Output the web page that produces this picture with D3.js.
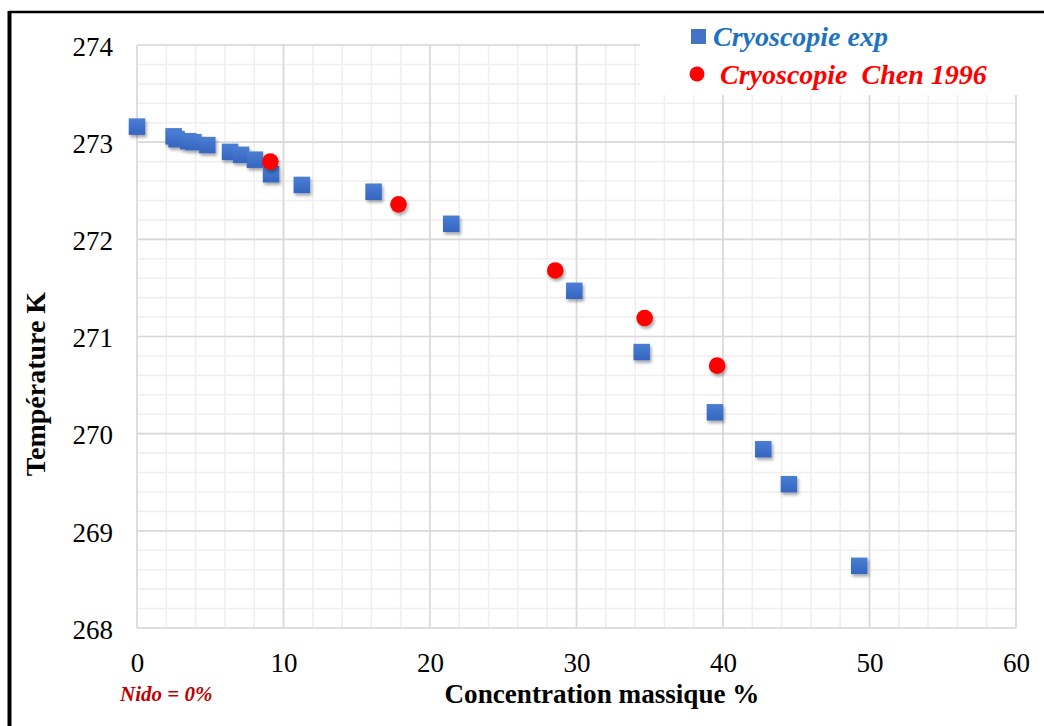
<!DOCTYPE html>
<html>
<head>
<meta charset="utf-8">
<script src="https://cdn.jsdelivr.net/npm/d3@7/dist/d3.min.js"></script>
<style>
  html, body { margin: 0; padding: 0; background: #fff; }
  svg { display: block; }
  text { font-family: 'Liberation Serif', 'Times New Roman', Times, 'DejaVu Serif', serif; }
</style>
</head>
<body>
<svg id="chart" width="1044" height="726"></svg>
<script>
// ---- Data ----
const expConc = [0, 2.5, 2.7, 3.5, 3.85, 4.8, 6.35, 7.1, 8.05, 9.15, 11.25, 16.15, 21.45, 29.85, 34.45, 39.45, 42.75, 44.5, 49.3];
const expTemp = [273.16, 273.06, 273.03, 273.01, 273.0, 272.97, 272.90, 272.87, 272.82, 272.67, 272.56, 272.49, 272.16, 271.47, 270.84, 270.22, 269.84, 269.48, 268.64];
const chenConc = [9.1, 17.85, 28.55, 34.65, 39.6];
const chenTemp = [272.80, 272.36, 271.68, 271.19, 270.70];
const xTicks = [0, 10, 20, 30, 40, 50, 60];
const yTicks = [268, 269, 270, 271, 272, 273, 274];
const seriesNames = ["Cryoscopie exp", "Cryoscopie\u00A0 Chen 1996"];
const xTitle = "Concentration massique %";
const yTitle = "Température K";
const note = "Nido = 0%";

// ---- Layout ----
const svg = d3.select("#chart");
const pLeft = 137, pRight = 1016, pTop = 45, pBottom = 628;
const x = d3.scaleLinear().domain([0, 60]).range([pLeft, pRight]);
const y = d3.scaleLinear().domain([268, 274]).range([pBottom, pTop]);
const serif = "'Liberation Serif', 'Times New Roman', Times, 'DejaVu Serif', serif";

const defs = svg.append("defs");
const f = defs.append("filter").attr("id", "shadow").attr("x", "-50%").attr("y", "-50%").attr("width", "200%").attr("height", "200%");
f.append("feDropShadow").attr("dx", 1.5).attr("dy", 2.5).attr("stdDeviation", 1.6).attr("flood-color", "#000").attr("flood-opacity", 0.35);
const grad = defs.append("linearGradient").attr("id", "sqgrad").attr("x1", 0).attr("y1", 0).attr("x2", 0).attr("y2", 1);
grad.append("stop").attr("offset", "0%").attr("stop-color", "#4a7ed3");
grad.append("stop").attr("offset", "100%").attr("stop-color", "#3565c0");

// ---- Grid ----
const minorX = d3.range(0, 60.001, 2);
const minorY = d3.range(268, 274.001, 0.2);
const g = svg.append("g");
g.selectAll(".mx").data(minorX).join("line")
  .attr("x1", d => x(d)).attr("x2", d => x(d)).attr("y1", pTop).attr("y2", pBottom)
  .attr("stroke", "#efefef").attr("stroke-width", 1.6);
g.selectAll(".my").data(minorY).join("line")
  .attr("x1", pLeft).attr("x2", pRight).attr("y1", d => y(d)).attr("y2", d => y(d))
  .attr("stroke", "#efefef").attr("stroke-width", 1.6);
g.selectAll(".Mx").data(xTicks).join("line")
  .attr("x1", d => x(d)).attr("x2", d => x(d)).attr("y1", pTop).attr("y2", pBottom)
  .attr("stroke", "#d9d9d9").attr("stroke-width", 1.6);
g.selectAll(".My").data(yTicks).join("line")
  .attr("x1", pLeft).attr("x2", pRight).attr("y1", d => y(d)).attr("y2", d => y(d))
  .attr("stroke", "#d9d9d9").attr("stroke-width", 1.6);

// ---- Axes (labels only) ----
const xAxis = svg.append("g").attr("transform", `translate(0,${pBottom})`)
  .call(d3.axisBottom(x).tickValues(xTicks).tickSize(0).tickPadding(0).tickFormat(d3.format("d")));
xAxis.attr("font-family", serif).attr("font-size", 27);
xAxis.select(".domain").remove();
xAxis.selectAll("text").style("font-family", serif).style("font-size", "27px").style("font-weight", "normal").attr("fill", "#000")
  .attr("y", 44).attr("dy", 0);

const yAxis = svg.append("g").attr("transform", `translate(${pLeft},0)`)
  .call(d3.axisLeft(y).tickValues(yTicks).tickSize(0).tickPadding(0).tickFormat(d3.format("d")));
yAxis.attr("font-family", serif).attr("font-size", 27);
yAxis.select(".domain").remove();
yAxis.selectAll("text").style("font-family", serif).style("font-size", "27px").style("font-weight", "normal").attr("fill", "#000")
  .attr("x", -24).attr("dy", "0.38em");

// ---- Legend background (covers grid) ----
svg.append("rect").attr("x", 640).attr("y", 14).attr("width", 404).attr("height", 81).attr("fill", "#fff");

// ---- Marks ----
const sq = 16.5;
svg.append("g").attr("filter", "url(#shadow)")
  .selectAll("rect").data(d3.zip(expConc, expTemp)).join("rect")
  .attr("x", d => x(d[0]) - sq / 2).attr("y", d => y(d[1]) - sq / 2)
  .attr("width", sq).attr("height", sq).attr("fill", "url(#sqgrad)");

svg.append("g").attr("filter", "url(#shadow)")
  .selectAll("circle").data(d3.zip(chenConc, chenTemp)).join("circle")
  .attr("cx", d => x(d[0])).attr("cy", d => y(d[1])).attr("r", 8.3).attr("fill", "#ff0000");

// ---- Legend ----
svg.append("rect").attr("x", 691).attr("y", 29).attr("width", 15).attr("height", 15).attr("fill", "#4472c4");
svg.append("text").attr("x", 713).attr("y", 46).text(seriesNames[0])
  .style("font-family", serif).style("font-size", "28px").attr("font-weight", "bold").attr("font-style", "italic").attr("fill", "#1e73be");
svg.append("circle").attr("cx", 697).attr("cy", 74).attr("r", 7.5).attr("fill", "#ff0000");
svg.append("text").attr("x", 720).attr("y", 84).text(seriesNames[1])
  .style("font-family", serif).style("font-size", "28px").attr("font-weight", "bold").attr("font-style", "italic").attr("fill", "#ff0000");

// ---- Titles ----
svg.append("text").attr("x", 602).attr("y", 703).attr("text-anchor", "middle").text(xTitle)
  .style("font-family", serif).style("font-size", "27px").attr("font-weight", "bold").attr("fill", "#000")
  .attr("textLength", 315).attr("lengthAdjust", "spacingAndGlyphs");
svg.append("text").attr("transform", "translate(45,384) rotate(-90)").attr("text-anchor", "middle").text(yTitle)
  .style("font-family", serif).style("font-size", "28px").attr("font-weight", "bold").attr("fill", "#000");
svg.append("text").attr("x", 120).attr("y", 701).text(note)
  .style("font-family", serif).style("font-size", "21px").attr("font-weight", "bold").attr("font-style", "italic").attr("fill", "#c00000");

// ---- Frame ----
svg.append("line").attr("x1", 9).attr("x2", 1044).attr("y1", 12).attr("y2", 12).attr("stroke", "#000").attr("stroke-width", 2.5);
svg.append("line").attr("x1", 9.5).attr("x2", 9.5).attr("y1", 11).attr("y2", 726).attr("stroke", "#000").attr("stroke-width", 4);
</script>
</body>
</html>
